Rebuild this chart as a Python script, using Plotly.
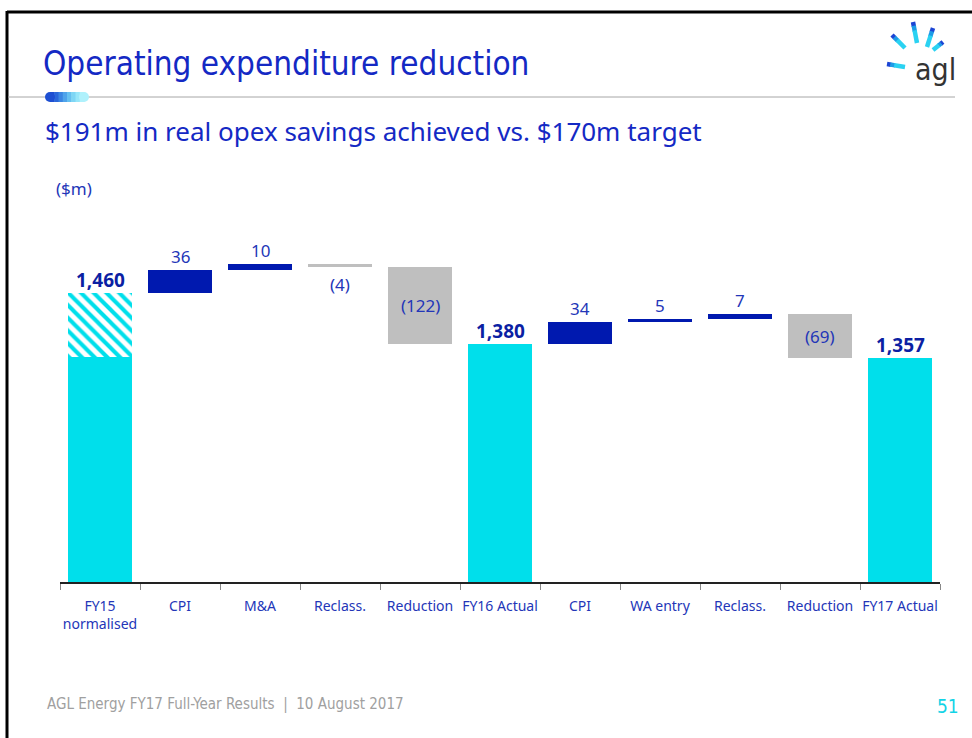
import plotly.graph_objects as go

# ---- data -------------------------------------------------------------
categories = ["FY15<br>normalised", "CPI", "M&A", "Reclass.", "Reduction",
              "FY16 Actual", "CPI", "WA entry", "Reclass.", "Reduction", "FY17 Actual"]
kinds = ["total", "up", "up", "down", "down", "total", "up", "up", "up", "down", "total"]
values = [1460, 36, 10, -4, -122, 1380, 34, 5, 7, -69, 1357]
fy15_underlying = 1358          # FY15 base before normalisation (hatched part above)

# ---- styling ----------------------------------------------------------
CYAN = "#00DFEB"
NAVY = "#0019AF"
GREY = "#BFBFBF"
LABEL = "#2336B8"
BOLD = "#0B1FA3"
TITLE = "#1429C4"
NARROW = "Liberation Sans Narrow, DejaVu Sans Condensed, Noto Sans"
W, H = 972, 738
L, R, T, B = 60, 32, 170, 156
PW, PH = W - L - R, H - T - B
YMIN, YMAX = 1002, 1655


def px_x(x):
    return (x - L) / PW


def px_y(y):
    return (H - B - y) / PH


xs = list(range(len(categories)))

# waterfall geometry from the values
bases, heights = [], []
running = 0
for k, v in zip(kinds, values):
    if k == "total":
        running = v
        bases.append(0)
        heights.append(v)
    else:
        bases.append(running)
        heights.append(v)
        running += v

# totals cyan, increases navy, decreases grey
colors = [CYAN if k == "total" else (NAVY if v > 0 else GREY) for k, v in zip(kinds, values)]

fig = go.Figure()

# solid bars (FY15 drawn up to its underlying level, hatched top added below)
solid_h = list(heights)
solid_h[0] = fy15_underlying
fig.add_trace(go.Bar(x=xs, y=solid_h, base=bases, width=0.8,
                     marker=dict(color=colors, line=dict(width=0)),
                     hoverinfo="skip", showlegend=False))

# hatched normalisation on FY15
fig.add_trace(go.Bar(x=[xs[0]], y=[values[0] - fy15_underlying], base=[fy15_underlying],
                     width=0.8,
                     marker=dict(color="white", line=dict(width=0),
                                 pattern=dict(shape="\\", fgcolor=CYAN, bgcolor="white",
                                              fgopacity=1, size=9, solidity=0.45)),
                     hoverinfo="skip", showlegend=False))

annotations = []
running = 0
for i, (k, v) in enumerate(zip(kinds, values)):
    if k == "total":
        running = v
        annotations.append(dict(x=i, y=v, xref="x", yref="y", text=f"<b>{v:,}</b>",
                                showarrow=False, yanchor="bottom", yshift=-2,
                                font=dict(size=19, color=BOLD)))
        continue
    top = running + max(v, 0)
    bottom = running + min(v, 0)
    if v > 0:
        annotations.append(dict(x=i, y=top, xref="x", yref="y", text=str(v),
                                showarrow=False, yanchor="bottom", yshift=0,
                                font=dict(size=17, color=LABEL)))
    elif abs(v) < 20:
        annotations.append(dict(x=i, y=bottom, xref="x", yref="y", text=f"({abs(v)})",
                                showarrow=False, yanchor="top", yshift=-4,
                                font=dict(size=17, color=LABEL)))
    else:
        annotations.append(dict(x=i, y=(top + bottom) / 2, xref="x", yref="y",
                                text=f"({abs(v)})", showarrow=False, yanchor="middle",
                                font=dict(size=17, color=LABEL)))
    running += v

# slide texts
annotations += [
    dict(x=px_x(41), y=px_y(63), xref="paper", yref="paper", xanchor="left", yanchor="middle",
         text="Operating expenditure reduction", showarrow=False,
         font=dict(family=NARROW, size=33, color=TITLE)),
    dict(x=px_x(43), y=px_y(131), xref="paper", yref="paper", xanchor="left", yanchor="middle",
         text="$191m in real opex savings achieved vs. $170m target", showarrow=False,
         font=dict(family="Noto Sans", size=26, color=TITLE)),
    dict(x=px_x(54), y=px_y(188), xref="paper", yref="paper", xanchor="left", yanchor="middle",
         text="($m)", showarrow=False, font=dict(family="Noto Sans", size=17, color=LABEL)),
    dict(x=px_x(45), y=px_y(704), xref="paper", yref="paper", xanchor="left", yanchor="middle",
         text="AGL Energy FY17 Full-Year Results  |  10 August 2017", showarrow=False,
         font=dict(family=NARROW, size=15, color="#A0A0A0")),
    dict(x=px_x(961), y=px_y(706), xref="paper", yref="paper", xanchor="right", yanchor="middle",
         text="51", showarrow=False,
         font=dict(family=NARROW, size=19, color="#12D3E6")),
    dict(x=px_x(935), y=px_y(69), xref="paper", yref="paper", xanchor="center", yanchor="middle",
         text="agl", showarrow=False,
         font=dict(family=NARROW, size=30, color="#333333")),
]

shapes = [
    # slide frame
    dict(type="line", xref="paper", yref="paper", x0=px_x(7), x1=px_x(972), y0=px_y(12), y1=px_y(12),
         line=dict(color="black", width=3)),
    dict(type="line", xref="paper", yref="paper", x0=px_x(7), x1=px_x(7), y0=px_y(11), y1=px_y(738),
         line=dict(color="black", width=3)),
    # header rule
    dict(type="line", xref="paper", yref="paper", x0=px_x(8), x1=px_x(955), y0=px_y(97), y1=px_y(97),
         line=dict(color="#A6A6A6", width=1)),
]

# gradient pill under the title
pill_cols = ["#1E4FD2", "#2A67DA", "#3B85E2", "#4FA3EA", "#66C0F0", "#7ED6F5", "#97E6F9", "#AFF1FC"]
x0p, x1p, yc = 50, 84, 97
seg = (x1p - x0p) / len(pill_cols)
for j, c in enumerate(pill_cols):
    shapes.append(dict(type="rect", xref="paper", yref="paper",
                       x0=px_x(x0p + j * seg), x1=px_x(x0p + (j + 1) * seg + 0.5),
                       y0=px_y(yc + 5), y1=px_y(yc - 5), line=dict(width=0), fillcolor=c))
shapes.append(dict(type="circle", xref="paper", yref="paper", x0=px_x(45), x1=px_x(55),
                   y0=px_y(yc + 5), y1=px_y(yc - 5), line=dict(width=0), fillcolor=pill_cols[0]))
shapes.append(dict(type="circle", xref="paper", yref="paper", x0=px_x(79), x1=px_x(89),
                   y0=px_y(yc + 5), y1=px_y(yc - 5), line=dict(width=0), fillcolor=pill_cols[-1]))

# logo rays: dark tip at the outer end fading to cyan
rays = [((892, 35), (905, 48)), ((913, 22), (917, 43)), ((933, 28), (927, 47)),
        ((943, 42), (933, 50)), ((887, 64), (905, 67))]
ray_cols = [("#1C45D4", 0.0, 0.22), ("#1E9BE6", 0.18, 0.45), ("#2AD2F2", 0.4, 1.0)]
for (ax, ay), (bx, by) in rays:
    for c, f0, f1 in ray_cols:
        shapes.append(dict(type="line", xref="paper", yref="paper",
                           x0=px_x(ax + (bx - ax) * f0), y0=px_y(ay + (by - ay) * f0),
                           x1=px_x(ax + (bx - ax) * f1), y1=px_y(ay + (by - ay) * f1),
                           line=dict(color=c, width=4.5)))

fig.update_layout(
    width=W, height=H,
    margin=dict(l=L, r=R, t=T, b=B),
    paper_bgcolor="white", plot_bgcolor="white",
    barmode="overlay", bargap=0,
    font=dict(family="Noto Sans", color=LABEL),
    annotations=annotations, shapes=shapes,
    xaxis=dict(range=[-0.5, len(categories) - 0.5], tickmode="array", tickvals=xs,
               ticktext=categories, ticks="", showgrid=False, zeroline=False,
               showline=True, linecolor="#222222", linewidth=1.5,
               ticklabelstandoff=10,
               tickfont=dict(family="Noto Sans", size=14, color=LABEL),
               minor=dict(ticks="outside", tickmode="linear", tick0=-0.5, dtick=1,
                          ticklen=6, tickcolor="#888888", tickwidth=1, showgrid=False)),
    yaxis=dict(range=[YMIN, YMAX], visible=False, showgrid=False, zeroline=False),
)

fig.write_html("out.html")
